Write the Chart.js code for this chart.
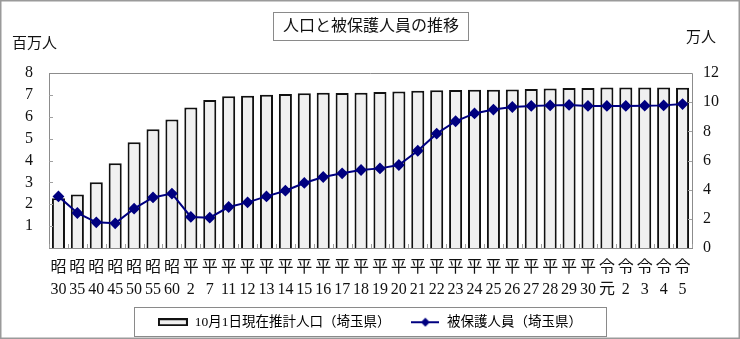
<!DOCTYPE html>
<html lang="ja">
<head>
<meta charset="utf-8">
<title>人口と被保護人員の推移</title>
<script src="https://cdn.jsdelivr.net/npm/chart.js@4/dist/chart.umd.min.js"></script>
<style>
  html, body { margin: 0; padding: 0; background: #fff; }
  #wrap { position: relative; width: 740px; height: 339px; }
</style>
</head>
<body>
<div id="wrap"><canvas id="chart" width="740" height="339"></canvas></div>
<script>
// 元号と年
const eras = ['昭','昭','昭','昭','昭','昭','昭','平','平',
  '平','平','平','平','平','平','平','平','平','平',
  '平','平','平','平','平','平','平','平','平','平',
  '令','令','令','令','令'];
const years = ['30','35','40','45','50','55','60','2','7',
  '11','12','13','14','15','16','17','18','19','20',
  '21','22','23','24','25','26','27','28','29','30',
  '元','2','3','4','5'];

// 10月1日現在推計人口（埼玉県）百万人
const population = [2.27, 2.45, 3.01, 3.88, 4.84, 5.43, 5.87, 6.42, 6.77, 6.94,
  6.96, 7.01, 7.04, 7.07, 7.10, 7.09, 7.10, 7.13, 7.16, 7.19,
  7.21, 7.22, 7.23, 7.24, 7.25, 7.27, 7.29, 7.31, 7.32, 7.34,
  7.34, 7.34, 7.34, 7.33];

// 被保護人員（埼玉県）万人
const protectedPersons = [3.54, 2.40, 1.76, 1.69, 2.70, 3.47, 3.73, 2.13, 2.08, 2.81,
  3.13, 3.54, 3.93, 4.46, 4.87, 5.12, 5.35, 5.46, 5.69, 6.67,
  7.84, 8.69, 9.23, 9.49, 9.67, 9.74, 9.78, 9.81, 9.74, 9.74,
  9.74, 9.76, 9.78, 9.87];

const leftTicks = { min: 0, max: 8, step: 1 };
const rightTicks = { min: 0, max: 12, step: 2 };

const labels = eras.map((e, i) => [e, years[i]]);

const SERIF = "'Liberation Serif', 'DejaVu Serif', 'Noto Sans CJK JP', serif";
const JP = "'Liberation Serif', 'Noto Sans CJK JP', serif";
const NAVY = '#000080';
const AXIS_GRAY = '#8c8c8c';

// legend swatches
function barSwatch() {
  const c = document.createElement('canvas');
  c.width = 30; c.height = 8;
  const g = c.getContext('2d');
  g.fillStyle = '#f0f0f0';
  g.fillRect(0, 0, 30, 8);
  g.strokeStyle = '#111';
  g.lineWidth = 2;
  g.strokeRect(1, 1, 28, 6);
  return c;
}
function lineSwatch() {
  const c = document.createElement('canvas');
  c.width = 28; c.height = 10;
  const g = c.getContext('2d');
  g.strokeStyle = NAVY;
  g.lineWidth = 2;
  g.beginPath(); g.moveTo(0, 5); g.lineTo(28, 5); g.stroke();
  g.fillStyle = NAVY;
  g.beginPath(); g.moveTo(14, 0.5); g.lineTo(18.5, 5); g.lineTo(14, 9.5); g.lineTo(9.5, 5); g.closePath(); g.fill();
  return c;
}

// title, unit captions, frame, inward ticks, legend frame
const decorations = {
  id: 'decorations',
  beforeDraw(chart) {
    const ctx = chart.ctx;
    ctx.save();
    ctx.fillStyle = '#fff';
    ctx.fillRect(0, 0, chart.width, chart.height);
    ctx.restore();
  },
  afterDraw(chart) {
    const ctx = chart.ctx;
    const a = chart.chartArea;
    ctx.save();
    // outer frame
    ctx.strokeStyle = '#9a9a9a';
    ctx.lineWidth = 1.5;
    ctx.strokeRect(0.75, 0.75, chart.width - 1.5, chart.height - 1.5);

    // plot frame (top and right)
    ctx.strokeStyle = AXIS_GRAY;
    ctx.lineWidth = 1;
    ctx.beginPath();
    ctx.moveTo(a.left, a.top + 0.5); ctx.lineTo(a.right + 0.5, a.top + 0.5);
    ctx.lineTo(a.right + 0.5, a.bottom);
    ctx.stroke();

    // inward tick marks
    const x = chart.scales.x, y = chart.scales.y, y1 = chart.scales.y1;
    ctx.strokeStyle = '#a0a0a0';
    ctx.beginPath();
    for (let i = 0; i <= eras.length; i++) {
      const px = Math.round(x.getPixelForValue(i - 0.5)) + 0.5;
      ctx.moveTo(px, a.bottom); ctx.lineTo(px, a.bottom - 4);
    }
    for (let v = leftTicks.min + leftTicks.step; v < leftTicks.max; v += leftTicks.step) {
      const py = Math.round(y.getPixelForValue(v)) + 0.5;
      ctx.moveTo(a.left, py); ctx.lineTo(a.left + 4, py);
    }
    for (let v = rightTicks.min + rightTicks.step; v < rightTicks.max; v += rightTicks.step) {
      const py = Math.round(y1.getPixelForValue(v)) + 0.5;
      ctx.moveTo(a.right, py); ctx.lineTo(a.right - 4, py);
    }
    ctx.stroke();

    // title box
    ctx.strokeStyle = '#8a8a8a';
    ctx.lineWidth = 1;
    ctx.strokeRect(273.5, 12.5, 195, 28);
    ctx.fillStyle = '#111';
    ctx.font = '16px ' + JP;
    ctx.textAlign = 'center';
    ctx.textBaseline = 'middle';
    ctx.fillText('人口と被保護人員の推移', 371, 27);

    // unit captions
    ctx.font = '15px ' + JP;
    ctx.textAlign = 'left';
    ctx.fillText('百万人', 12, 44);
    ctx.fillText('万人', 686, 38);

    // legend frame
    const lg = chart.legend;
    if (lg && lg.legendHitBoxes && lg.legendHitBoxes.length) {
      const hb = lg.legendHitBoxes;
      const l = Math.min(...hb.map(h => h.left)) - 24;
      const r = Math.max(...hb.map(h => h.left + h.width)) + 24;
      const cy = hb[0].top + hb[0].height / 2;
      ctx.strokeStyle = '#8a8a8a';
      ctx.strokeRect(Math.round(l) + 0.5, Math.round(cy - 15) + 0.5, Math.round(r - l), 29);
    }
    ctx.restore();
  }
};

new Chart(document.getElementById('chart'), {
  data: {
    labels: labels,
    datasets: [
      {
        type: 'line',
        label: '被保護人員（埼玉県）',
        data: protectedPersons,
        yAxisID: 'y1',
        borderColor: NAVY,
        backgroundColor: NAVY,
        borderWidth: 2,
        pointStyle: 'rectRot',
        pointRadius: 4.5,
        pointHoverRadius: 4.5,
        tension: 0,
        order: 0
      },
      {
        type: 'bar',
        label: '10月1日現在推計人口（埼玉県）',
        data: population,
        yAxisID: 'y',
        backgroundColor: '#f0f0f0',
        borderColor: '#111',
        borderWidth: 2,
        categoryPercentage: 1,
        barPercentage: 0.69,
        order: 1
      }
    ]
  },
  options: {
    responsive: false,
    animation: false,
    devicePixelRatio: 1,
    layout: { padding: { top: 73, left: 0, right: 0, bottom: 0 } },
    plugins: {
      tooltip: { enabled: false },
      title: { display: false },
      legend: {
        position: 'bottom',
        labels: {
          usePointStyle: true,
          pointStyleWidth: 30,
          padding: 20,
          color: '#111',
          font: { size: 13.5, family: JP },
          generateLabels(chart) {
            return [
              { text: '10月1日現在推計人口（埼玉県）', pointStyle: barSwatch(), datasetIndex: 1, fillStyle: '#f0f0f0', strokeStyle: '#111', lineWidth: 0, hidden: false },
              { text: '被保護人員（埼玉県）', pointStyle: lineSwatch(), datasetIndex: 0, fillStyle: NAVY, strokeStyle: NAVY, lineWidth: 0, hidden: false }
            ];
          }
        }
      }
    },
    scales: {
      x: {
        type: 'category',
        offset: true,
        grid: { display: false, drawTicks: false },
        border: { display: true, color: AXIS_GRAY, width: 1 },
        ticks: {
          autoSkip: false, maxRotation: 0, minRotation: 0,
          padding: 9,
          color: '#111',
          font: { size: 16, family: SERIF, lineHeight: 1.38 }
        },
        afterFit(scale) { scale.height = 47.5; }
      },
      y: {
        position: 'left',
        min: leftTicks.min, max: leftTicks.max,
        grid: { display: false, drawTicks: false },
        border: { display: true, color: AXIS_GRAY, width: 1 },
        ticks: {
          stepSize: leftTicks.step,
          autoSkip: false,
          padding: 16,
          color: '#111',
          font: { size: 16, family: SERIF },
          callback: v => (v === 0 ? '' : v)
        },
        afterFit(scale) { scale.width = 49; }
      },
      y1: {
        position: 'right',
        min: rightTicks.min, max: rightTicks.max,
        grid: { display: false, drawTicks: false },
        border: { display: false },
        ticks: {
          stepSize: rightTicks.step,
          autoSkip: false,
          padding: 11,
          color: '#111',
          font: { size: 16, family: SERIF }
        },
        afterFit(scale) { scale.width = 48; }
      }
    }
  },
  plugins: [decorations]
});
</script>
</body>
</html>
